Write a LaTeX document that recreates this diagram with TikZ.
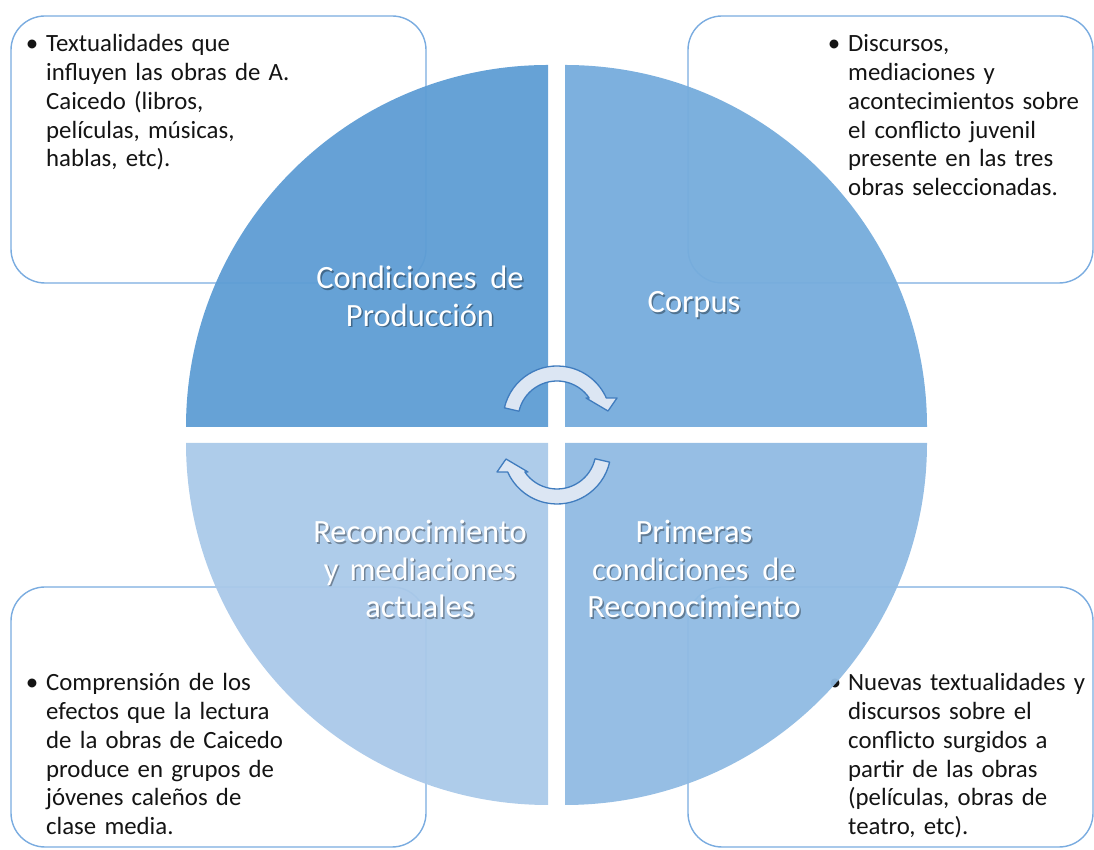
\documentclass[tikz,border=0pt]{standalone}
\usepackage{fontspec}
\setmainfont{Carlito}
\usepackage{tikz}
\usetikzlibrary{calc}

\definecolor{boxline}{RGB}{122,172,224}
\definecolor{qtl}{RGB}{94,157,212}
\definecolor{qtr}{RGB}{118,172,220}
\definecolor{qbr}{RGB}{144,187,227}
\definecolor{qbl}{RGB}{170,201,233}
\definecolor{arrfill}{RGB}{220,230,243}
\definecolor{arrline}{RGB}{64,124,190}

\begin{document}
\begin{tikzpicture}[x=1pt,y=1pt,
  box/.style={draw=boxline,line width=1.4pt,fill=white,rounded corners=34pt},
  quad/.style={opacity=0.95},
  dot/.style={anchor=base,inner sep=0pt,text=black!92,font=\fontsize{25}{28.7}\selectfont},
  boxtext/.style={anchor=base west,inner sep=0pt,text=black!92,align=left,
    text width=250pt,font=\fontsize{24.8}{28.7}\selectfont},
  quadlabel/.style={anchor=base,inner sep=0pt,text=white,align=center,
    text width=260pt,font=\fontsize{32.5}{37.5}\selectfont},
  quadshadow/.style={quadlabel,text=black,opacity=0.35},
  cyc/.style={draw=arrline,fill=arrfill,line width=1.3pt,line join=round}
]
  \useasboundingbox (0,0) rectangle (1094,850);

  \draw[box] (11,567) rectangle (426,834);
  \draw[box] (688,567) rectangle (1093,834);
  \draw[box] (11,3) rectangle (426,263);
  \draw[box] (688,3) rectangle (1093,263);

  \node[dot] (b1) at (32,798) {•};
  \node[boxtext] (t1) at (46,798) {Textualidades que\\influyen las obras de A.\\Caicedo (libros,\\películas, músicas,\\hablas, etc).};
  \node[dot] (b2) at (834,798) {•};
  \node[boxtext] (t2) at (848,798) {Discursos,\\mediaciones y\\acontecimientos sobre\\el conflicto juvenil\\presente en las tres\\obras seleccionadas.};
  \node[dot] (b3) at (32,159) {•};
  \node[boxtext] (t3) at (46,159) {Comprensión de los\\efectos que la lectura\\de la obras de Caicedo\\produce en grupos de\\jóvenes caleños de\\clase media.};
  \node[dot] (b4) at (835,159) {•};
  \node[boxtext] (t4) at (848,159) {Nuevas textualidades y\\discursos sobre el\\conflicto surgidos a\\partir de las obras\\(películas, obras de\\teatro, etc).};

  \fill[qtl,quad] (548,423) -- (186,423) arc[start angle=180,end angle=90,radius=362] -- cycle;
  \fill[qtr,quad] (565,423) -- (565,785) arc[start angle=90,end angle=0,radius=362] -- cycle;
  \fill[qbr,quad] (565,407) -- (927,407) arc[start angle=0,end angle=-90,radius=362] -- cycle;
  \fill[qbl,quad] (548,407) -- (548,45) arc[start angle=270,end angle=180,radius=362] -- cycle;

  \node[quadshadow] (s1) at (421.5,559.5) {Condiciones\kern3pt{} de\\Producción};
  \node[quadshadow] (s2) at (695.5,535.5) {Corpus};
  \node[quadshadow] (s3) at (421.5,305.5) {Reconocimiento\\y mediaciones\\actuales};
  \node[quadshadow] (s4) at (695.5,305.5) {Primeras\\condiciones\kern3pt{} de\\Reconocimiento};

  \node[quadlabel] (l1) at (420,561) {Condiciones\kern3pt{} de\\Producción};
  \node[quadlabel] (l2) at (694,537) {Corpus};
  \node[quadlabel] (l3) at (420,307) {Reconocimiento\\y mediaciones\\actuales};
  \node[quadlabel] (l4) at (694,307) {Primeras\\condiciones\kern3pt{} de\\Reconocimiento};

  \coordinate (c1) at (557,430);
  \coordinate (c2) at (557,400);
  \draw[cyc] ($(c1)+(167:54)$) arc[start angle=167,end angle=24,radius=54]
    -- ($(c1)+(60,22)$) -- ($(c1)+(51,9)$) -- ($(c1)+(29,22)$)
    -- ($(c1)+(34.4:39)$) arc[start angle=34.4,end angle=167,radius=39] -- cycle;
  \draw[cyc] ($(c2)+(347:54)$) arc[start angle=347,end angle=204,radius=54]
    -- ($(c2)+(-60,-22)$) -- ($(c2)+(-51,-9)$) -- ($(c2)+(-29,-22)$)
    -- ($(c2)+(214.4:39)$) arc[start angle=214.4,end angle=347,radius=39] -- cycle;
\end{tikzpicture}
\end{document}
